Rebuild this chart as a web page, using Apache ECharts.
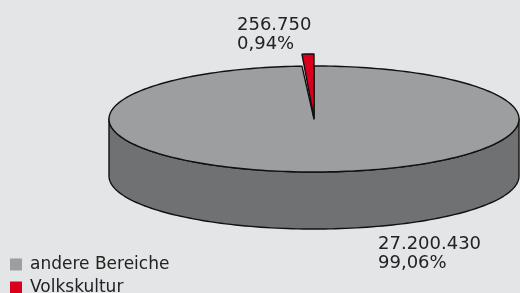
<!DOCTYPE html>
<html>
<head>
<meta charset="utf-8">
<script src="https://cdn.jsdelivr.net/npm/echarts@6/dist/echarts.min.js"></script>
<style>
  html, body { margin: 0; padding: 0; background: #e4e5e6; }
  #chart { width: 520px; height: 293px; }
</style>
</head>
<body>
<div id="chart"></div>
<script>
const names = ["andere Bereiche", "Volkskultur"];
const values = [27200430, 256750];
const colors = ["#9d9ea0", "#d8001c"];
const sideColor = "#707173";

const total = values.reduce((a, b) => a + b, 0);

// slices run counterclockwise from 12 o'clock: Volkskultur first, then the rest
const order = [1, 0];
const sweeps = values.map((v) => (v / total) * 360);
const starts = [];
let acc = 90;
order.forEach((i) => {
  starts[i] = acc;
  acc += sweeps[i];
});

function fmtNum(v) {
  return String(v).replace(/\B(?=(\d{3})+(?!\d))/g, ".");
}
function fmtPct(v) {
  return ((v / total) * 100).toFixed(2).replace(".", ",") + "%";
}

// ellipse layout
const geo = { cx: 314, cy: 119, rx: 205, ry: 53, depth: 57, explode: 12 };

function pt(deg, dy) {
  const r = (deg * Math.PI) / 180;
  return [geo.cx + geo.rx * Math.cos(r), geo.cy - geo.ry * Math.sin(r) + (dy || 0)];
}

function arc(from, to, dy) {
  const pts = [];
  const n = Math.max(2, Math.ceil(Math.abs(to - from) / 1.5));
  for (let k = 0; k <= n; k++) {
    pts.push(pt(from + ((to - from) * k) / n, dy));
  }
  return pts;
}

const lineStyle = { stroke: "#111", lineWidth: 1.4, lineJoin: "round" };

function labelText(i, x, y) {
  return {
    type: "text",
    x: x,
    y: y,
    style: {
      text: fmtNum(values[i]) + "\n" + fmtPct(values[i]),
      font: "18px 'DejaVu Sans'",
      lineHeight: 19,
      fill: "#222",
      align: "left",
      verticalAlign: "top",
    },
  };
}

function renderRest(params, api) {
  const i = 0;
  const a0 = starts[i];
  const a1 = a0 + sweeps[i];
  // front wall of the cylinder
  const side = arc(180, 360, 0).concat(arc(360, 180, geo.depth));
  const top = [[geo.cx, geo.cy]].concat(arc(a0, a1, 0));
  return {
    type: "group",
    children: [
      { type: "polygon", shape: { points: side }, style: Object.assign({ fill: sideColor }, lineStyle) },
      { type: "polygon", shape: { points: top }, style: Object.assign({ fill: colors[i] }, lineStyle) },
      labelText(i, geo.cx + 64, geo.cy + geo.ry + geo.depth + 6),
    ],
  };
}

function renderSlice(params, api) {
  const i = 1;
  const a0 = starts[i];
  const a1 = a0 + sweeps[i];
  const pts = [[geo.cx, geo.cy - 1]].concat(arc(a0, a1, -geo.explode));
  return {
    type: "group",
    children: [
      { type: "polygon", shape: { points: pts }, style: Object.assign({ fill: colors[i] }, lineStyle) },
      labelText(i, geo.cx - 77, geo.cy - geo.ry - geo.explode - 38),
    ],
  };
}

const chart = echarts.init(document.getElementById("chart"), null, {
  renderer: "canvas",
});

const legendBase = {
  orient: "vertical",
  left: 10,
  padding: 0,
  itemWidth: 12,
  itemHeight: 12,
  icon: "rect",
  selectedMode: false,
  itemStyle: { borderWidth: 0 },
  textStyle: {
    fontFamily: "DejaVu Sans",
    fontSize: 17,
    color: "#222",
    padding: [0, 0, 0, 3],
  },
};

const option = {
  backgroundColor: "#e4e5e6",
  animation: false,
  color: colors,
  legend: names.map((n, k) =>
    Object.assign({}, legendBase, { top: 256 + k * 23, data: [n] })
  ),
  series: [
    {
      name: names[0],
      type: "custom",
      coordinateSystem: "none",
      itemStyle: { color: colors[0] },
      renderItem: renderRest,
      data: [[values[0]]],
      silent: true,
    },
    {
      name: names[1],
      type: "custom",
      coordinateSystem: "none",
      itemStyle: { color: colors[1] },
      renderItem: renderSlice,
      data: [[values[1]]],
      silent: true,
    },
  ],
};

chart.setOption(option);
</script>
</body>
</html>
